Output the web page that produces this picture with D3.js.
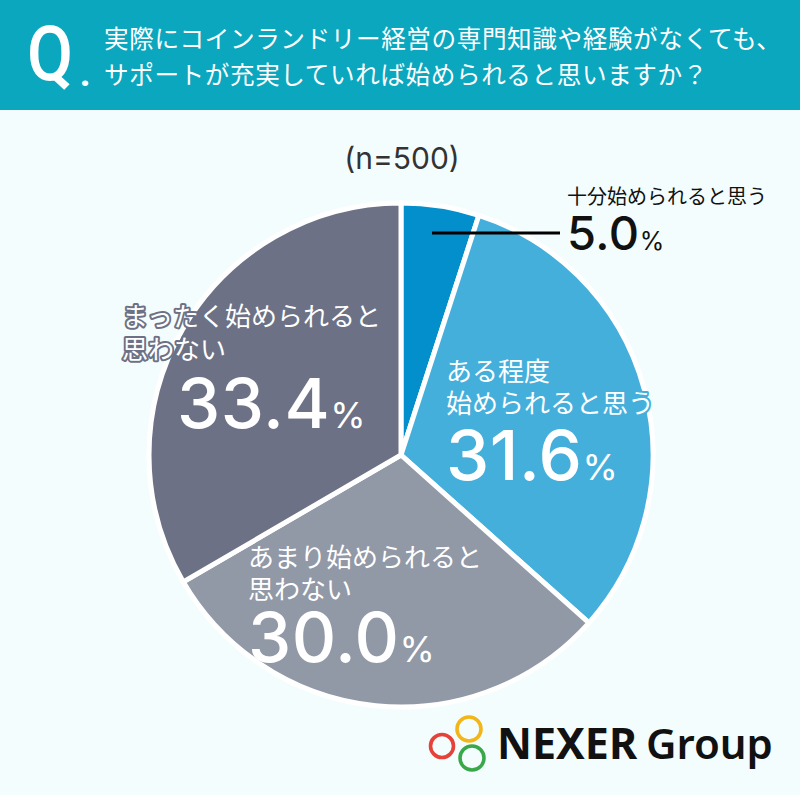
<!DOCTYPE html>
<html>
<head>
<meta charset="utf-8">
<script src="https://cdn.jsdelivr.net/npm/d3@7"></script>
<style>
  html, body { margin: 0; padding: 0; background: #f4fdfd; }
  svg { display: block; }
</style>
</head>
<body>
<div id="chart"></div>
<script>
// Données
const categories = ["十分始められると思う", "ある程度始められると思う", "あまり始められると思わない", "まったく始められると思わない"];
const values = [5.0, 31.6, 30.0, 33.4];
const labelLines = [
  ["十分始められると思う"],
  ["ある程度", "始められると思う"],
  ["あまり始められると", "思わない"],
  ["まったく始められると", "思わない"]
];
const questionLines = [
  "実際にコインランドリー経営の専門知識や経験がなくても、",
  "サポートが充実していれば始められると思いますか？"
];
const sampleText = "(n=500)";

const couleurs = ["#028fcb", "#45afdc", "#9198a6", "#6c7185"];

const width = 800, height = 795;
const jp = "'Noto Sans CJK JP', 'Noto Sans', sans-serif";
const num = "Inter, 'Noto Sans', sans-serif";

const svg = d3.select("#chart").append("svg")
  .attr("width", width)
  .attr("height", height);

svg.append("rect").attr("width", width).attr("height", height).attr("fill", "#f4fdfd");

// Bandeau question
svg.append("rect").attr("width", width).attr("height", 110).attr("fill", "#0aa7bf");
svg.append("text")
  .attr("transform", "translate(27,80) scale(0.88,1)")
  .attr("font-family", "Roboto, sans-serif")
  .attr("font-weight", 500)
  .attr("font-size", 76)
  .attr("fill", "#fff")
  .text("Q");
svg.append("text")
  .attr("x", 80).attr("y", 86)
  .attr("font-family", "Roboto, sans-serif")
  .attr("font-weight", 900)
  .attr("font-size", 34)
  .attr("fill", "#fff")
  .text(".");
svg.selectAll("text.question")
  .data(questionLines)
  .enter()
  .append("text")
  .attr("class", "question")
  .attr("x", 104)
  .attr("y", (d, i) => 37 + i * 36)
  .attr("dominant-baseline", "central")
  .attr("font-family", jp)
  .attr("font-size", 24.6)
  .attr("letter-spacing", 0.6)
  .attr("fill", "#fff")
  .text(d => d);

// n=500
svg.append("text")
  .attr("x", 402).attr("y", 158)
  .attr("text-anchor", "middle")
  .attr("dominant-baseline", "central")
  .attr("font-family", num)
  .attr("font-size", 30)
  .attr("fill", "#333")
  .text(sampleText);

// Camembert
const cx = 401, cy = 455, radius = 252;
const pie = d3.pie().sort(null).value(d => d);
const arc = d3.arc().innerRadius(0).outerRadius(radius);

const g = svg.append("g").attr("transform", `translate(${cx},${cy})`);
g.selectAll("path")
  .data(pie(values))
  .enter()
  .append("path")
  .attr("d", arc)
  .attr("fill", (d, i) => couleurs[i])
  .attr("stroke", "#fff")
  .attr("stroke-width", 5)
  .attr("stroke-linejoin", "miter");

// Position des étiquettes
const layout = [
  { x: 567, y: 195, lh: 0, size: 20, numY: 250, numSize: 47, pctSize: 25, color: "#111", halo: null },
  { x: 446, y: 369, lh: 32, size: 26, numY: 480, numSize: 69, pctSize: 36, color: "#fff", halo: couleurs[1] },
  { x: 248, y: 555, lh: 32, size: 26, numY: 662, numSize: 69, pctSize: 36, color: "#fff", halo: couleurs[2] },
  { x: 122, y: 314, lh: 33, size: 26, numY: 428, numSize: 69, pctSize: 36, numX: 177, color: "#fff", halo: couleurs[3] }
];

// Trait de rappel pour la petite part
svg.append("line")
  .attr("x1", 432).attr("x2", 560)
  .attr("y1", 233).attr("y2", 233)
  .attr("stroke", "#000")
  .attr("stroke-width", 3);

values.forEach((v, i) => {
  const L = layout[i];
  labelLines[i].forEach((line, j) => {
    const t = svg.append("text")
      .attr("x", L.x)
      .attr("y", L.y + j * L.lh)
      .attr("dominant-baseline", "central")
      .attr("font-family", jp)
      .attr("font-size", L.size)
      .attr("fill", L.color)
      .text(line);
    if (L.halo) {
      t.attr("stroke", L.halo).attr("stroke-width", 4)
        .attr("stroke-linejoin", "round").attr("paint-order", "stroke");
    }
  });
  const n = svg.append("text")
    .attr("x", L.numX || L.x)
    .attr("y", L.numY)
    .attr("font-family", num)
    .attr("font-weight", 500)
    .attr("fill", L.color);
  n.append("tspan")
    .attr("font-size", L.numSize)
    .attr("letter-spacing", 0.5)
    .text(v.toFixed(1));
  n.append("tspan")
    .attr("font-size", L.pctSize)
    .attr("dx", 0)
    .attr("font-weight", 400)
    .text("%");
});

// Logo NEXER Group
const rings = [
  { x: 469, y: 729, r: 12, c: "#f2b61b" },
  { x: 442, y: 746, r: 11.5, c: "#e5433a" },
  { x: 472, y: 758, r: 12, c: "#3aa84a" }
];
svg.selectAll("circle.ring")
  .data(rings)
  .enter()
  .append("circle")
  .attr("class", "ring")
  .attr("cx", d => d.x).attr("cy", d => d.y).attr("r", d => d.r)
  .attr("fill", "none")
  .attr("stroke", d => d.c)
  .attr("stroke-width", 3.6);
svg.append("text")
  .attr("x", 497).attr("y", 759)
  .attr("font-family", "'Noto Sans', sans-serif")
  .attr("font-weight", 700)
  .attr("font-size", 43)
  .attr("fill", "#111")
  .text("NEXER");
svg.append("text")
  .attr("x", 646).attr("y", 759)
  .attr("font-family", "'Noto Sans', sans-serif")
  .attr("font-weight", 600)
  .attr("font-size", 42)
  .attr("fill", "#111")
  .text("Group");
</script>
</body>
</html>
